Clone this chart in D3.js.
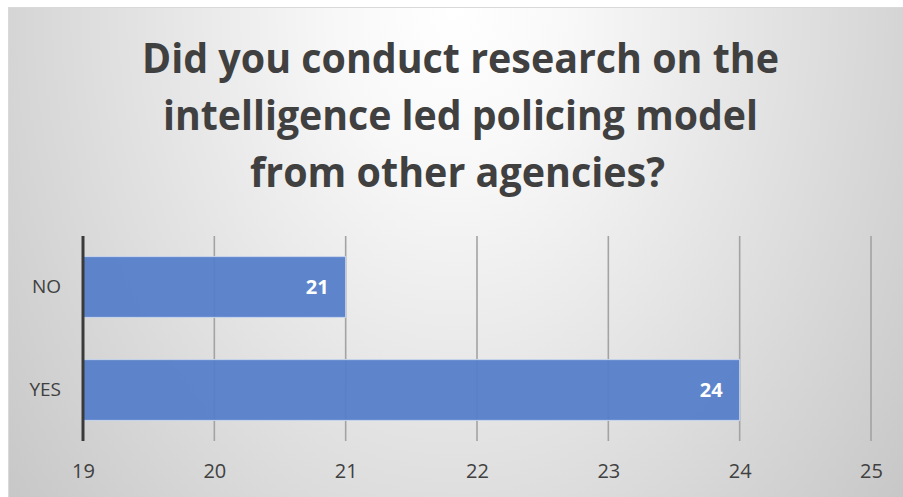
<!DOCTYPE html>
<html>
<head>
<meta charset="utf-8">
<script src="https://cdn.jsdelivr.net/npm/d3@7"></script>
<style>
  html, body { margin: 0; padding: 0; background: #ffffff; }
  svg { display: block; }
</style>
</head>
<body>
<div id="chart"></div>
<script>
// Survey responses
const categories = ["NO", "YES"];
const counts = [21, 24];
const xTicks = [19, 20, 21, 22, 23, 24, 25];
const titleLines = [
  "Did you conduct research on the",
  "intelligence led policing model",
  "from other agencies?"
];

const W = 903, H = 497;
const svg = d3.select("#chart").append("svg")
  .attr("width", W).attr("height", H);

// Soft background shading, lightest at the top centre
const defs = svg.append("defs");
const grad = defs.append("radialGradient")
  .attr("id", "bg")
  .attr("gradientUnits", "userSpaceOnUse")
  .attr("cx", 455).attr("cy", 7)
  .attr("fx", 455).attr("fy", 7)
  .attr("r", 585)
  .attr("gradientTransform", "translate(455,7) scale(1,1.37) translate(-455,-7)");
grad.append("stop").attr("offset", "0").attr("stop-color", "#ffffff");
grad.append("stop").attr("offset", "0.2").attr("stop-color", "#f8f8f8");
grad.append("stop").attr("offset", "1").attr("stop-color", "#c6c6c6");

svg.append("rect")
  .attr("x", 8.5).attr("y", 7.5)
  .attr("width", W - 8).attr("height", H - 7)
  .attr("fill", "url(#bg)")
  .attr("stroke", "#d9d9d9").attr("stroke-width", 1);

// Title
const title = svg.append("g")
  .attr("font-family", "'Open Sans', sans-serif")
  .attr("font-weight", "bold")
  .attr("font-size", 41)
  .attr("fill", "#404040");
const titleGeom = [
  { x0: 142, x1: 779, y: 73 },
  { x0: 163, x1: 758, y: 130 },
  { x0: 250, x1: 665, y: 187 }
];
titleLines.forEach((t, i) => {
  const g = titleGeom[i];
  title.append("text")
    .attr("x", g.x0).attr("y", g.y)
    .attr("textLength", g.x1 - g.x0)
    .attr("lengthAdjust", "spacingAndGlyphs")
    .text(t);
});

// Plot area
const plot = { left: 83, right: 871, top: 236, bottom: 441 };

const x = d3.scaleLinear()
  .domain([d3.min(xTicks), d3.max(xTicks)])
  .range([plot.left, plot.right]);

const y = d3.scaleBand()
  .domain(categories)
  .range([plot.top, plot.bottom])
  .paddingInner(0.41)
  .paddingOuter(0.2);

// Vertical gridlines
svg.append("g")
  .selectAll("line")
  .data(xTicks.slice(1))
  .join("line")
  .attr("x1", d => x(d)).attr("x2", d => x(d))
  .attr("y1", plot.top).attr("y2", plot.bottom)
  .attr("stroke", "#a3a3a3")
  .attr("stroke-width", 1.6);

// Bars
svg.append("g")
  .selectAll("rect")
  .data(categories.map((c, i) => ({ c, v: counts[i] })))
  .join("rect")
  .attr("x", x(xTicks[0]))
  .attr("y", d => y(d.c))
  .attr("width", d => x(d.v) - x(xTicks[0]))
  .attr("height", y.bandwidth())
  .attr("fill", "#5680c9")
  .attr("fill-opacity", 0.95)
  .attr("stroke", "#c9d5ec")
  .attr("stroke-width", 1);

// Value labels inside bar ends
svg.append("g")
  .selectAll("text")
  .data(categories.map((c, i) => ({ c, v: counts[i] })))
  .join("text")
  .attr("x", d => x(d.v) - 17)
  .attr("y", d => y(d.c) + y.bandwidth() / 2)
  .attr("dy", "0.36em")
  .attr("text-anchor", "end")
  .attr("font-family", "'Open Sans', sans-serif")
  .attr("font-weight", "bold")
  .attr("font-size", 20)
  .attr("fill", "#ffffff")
  .text(d => d.v);

// Category axis line
svg.append("line")
  .attr("x1", plot.left).attr("x2", plot.left)
  .attr("y1", plot.top).attr("y2", plot.bottom)
  .attr("stroke", "#3a3a3a")
  .attr("stroke-width", 3);

// Category labels
const yAxis = svg.append("g")
  .attr("transform", `translate(${plot.left},0)`)
  .call(d3.axisLeft(y).tickSize(0).tickPadding(22));
yAxis.select(".domain").remove();
yAxis.selectAll("text")
  .attr("font-family", "'Open Sans', sans-serif")
  .attr("font-size", 19)
  .attr("fill", "#404040");

// Value axis labels
const xAxis = svg.append("g")
  .attr("transform", `translate(0,${plot.bottom})`)
  .call(d3.axisBottom(x).tickValues(xTicks).tickFormat(d3.format("d")).tickSize(0).tickPadding(23));
xAxis.select(".domain").remove();
xAxis.selectAll("text")
  .attr("font-family", "'Open Sans', sans-serif")
  .attr("font-size", 20)
  .attr("fill", "#404040");
</script>
</body>
</html>
